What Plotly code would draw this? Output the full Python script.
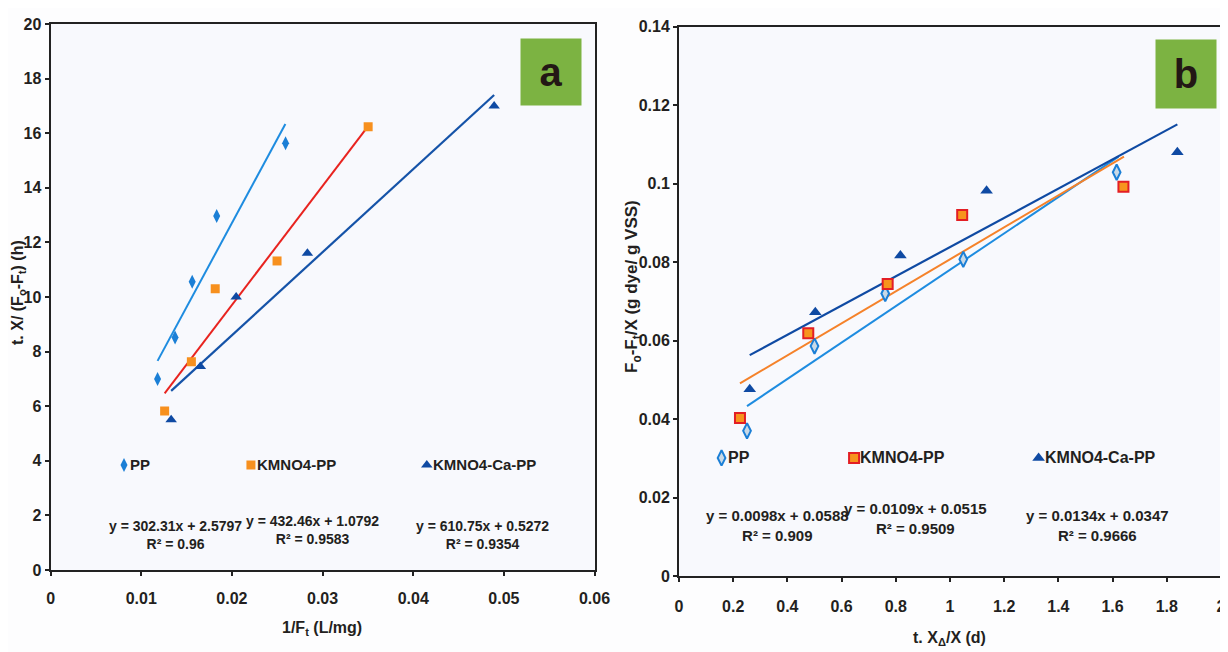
import plotly.graph_objects as go

# ---------------- Panel a data ----------------
a_pp_x = [0.0118, 0.01373, 0.01562, 0.01832, 0.02592]
a_pp_y = [7.0, 8.52, 10.56, 12.97, 15.63]
a_km_x = [0.01258, 0.01553, 0.01816, 0.02498, 0.03503]
a_km_y = [5.82, 7.63, 10.3, 11.32, 16.24]
a_ca_x = [0.0133, 0.01652, 0.02047, 0.02833, 0.04893]
a_ca_y = [5.5, 7.45, 10.0, 11.6, 17.0]
# trend line ends (as drawn)
a_pp_fit_x = [0.0118, 0.0259]
a_pp_fit_y = [7.66, 16.34]
a_km_fit_x = [0.01258, 0.03503]
a_km_fit_y = [6.47, 16.26]
a_ca_fit_x = [0.0133, 0.04893]
a_ca_fit_y = [6.56, 17.4]

# ---------------- Panel b data ----------------
b_pp_x = [0.251, 0.500, 0.761, 1.049, 1.615]
b_pp_y = [0.0370, 0.0586, 0.0720, 0.0807, 0.1029]
b_km_x = [0.225, 0.477, 0.770, 1.045, 1.640]
b_km_y = [0.0403, 0.0619, 0.0744, 0.0920, 0.0992]
b_ca_x = [0.261, 0.503, 0.817, 1.135, 1.839]
b_ca_y = [0.0476, 0.0672, 0.0817, 0.0982, 0.1080]
b_pp_fit_x = [0.251, 1.622]
b_pp_fit_y = [0.0433, 0.1069]
b_km_fit_x = [0.225, 1.642]
b_km_fit_y = [0.0491, 0.1069]
b_ca_fit_x = [0.261, 1.839]
b_ca_fit_y = [0.0563, 0.1151]

series_names = ["PP", "KMNO4-PP", "KMNO4-Ca-PP"]
a_legend_x = [0.0081, 0.0221, 0.0415]
a_legend_y = 3.85
b_legend_x = [0.157, 0.646, 1.327]
b_legend_y = 0.0301

a_eq = ["y = 302.31x + 2.5797<br>R² = 0.96",
        "y = 432.46x + 1.0792<br>R² = 0.9583",
        "y = 610.75x + 0.5272<br>R² = 0.9354"]
a_eq_x = [0.0138, 0.0289, 0.0476]
a_eq_y = [1.3, 1.47, 1.3]
b_eq = ["y = 0.0098x + 0.0588<br>R² = 0.909",
        "y = 0.0109x + 0.0515<br>R² = 0.9509",
        "y = 0.0134x + 0.0347<br>R² = 0.9666"]
b_eq_x = [0.363, 0.874, 1.546]
b_eq_y = [0.0128, 0.0146, 0.0128]

FONT = "Liberation Sans Narrow, Arial Narrow, Liberation Sans, Arial"
TXT = "#231f20"

c_pp_a = "#1b7fd6"
c_km_a = "#f7901e"
c_ca = "#0f4aa3"
c_red = "#e8231f"
c_pp_line = "#1e8ce0"
c_orange_line = "#f5822a"

# page has an 8px body margin; figure size chosen so it fits the window
W, H, OFF = 1220, 644, 8
def fx(p):
    return (p - OFF) / W
def fy(p):
    return 1 - (p - OFF) / H

fig = go.Figure()

def add(x, y, xa, ya, mode, marker=None, line=None):
    fig.add_trace(go.Scatter(x=x, y=y, xaxis=xa, yaxis=ya, mode=mode,
                             marker=marker, line=line, showlegend=False,
                             hoverinfo="skip"))

# ----- panel a -----
add(a_pp_fit_x, a_pp_fit_y, "x", "y", "lines", line=dict(color=c_pp_line, width=2))
add(a_km_fit_x, a_km_fit_y, "x", "y", "lines", line=dict(color=c_red, width=2))
add(a_ca_fit_x, a_ca_fit_y, "x", "y", "lines", line=dict(color="#1553a8", width=2.2))
m_a = [dict(symbol="diamond-tall", size=10, color=c_pp_a),
       dict(symbol="square", size=9, color=c_km_a),
       dict(symbol="triangle-up", size=10, color=c_ca)]
add(a_pp_x, a_pp_y, "x", "y", "markers", marker=m_a[0])
add(a_km_x, a_km_y, "x", "y", "markers", marker=m_a[1])
add(a_ca_x, a_ca_y, "x", "y", "markers", marker=m_a[2])
for i in range(3):
    add([a_legend_x[i]], [a_legend_y], "x", "y", "markers", marker=m_a[i])

# ----- panel b -----
add(b_pp_fit_x, b_pp_fit_y, "x2", "y2", "lines", line=dict(color=c_pp_line, width=2))
add(b_km_fit_x, b_km_fit_y, "x2", "y2", "lines", line=dict(color=c_orange_line, width=2))
add(b_ca_fit_x, b_ca_fit_y, "x2", "y2", "lines", line=dict(color=c_ca, width=2.2))
m_b = [dict(symbol="diamond-tall", size=11, color="#c9d9e6", line=dict(color="#1b7fd6", width=2)),
       dict(symbol="square", size=10, color="#f7941d", line=dict(color="#e31e24", width=2)),
       dict(symbol="triangle-up", size=11, color=c_ca)]
add(b_pp_x, b_pp_y, "x2", "y2", "markers", marker=m_b[0])
add(b_km_x, b_km_y, "x2", "y2", "markers", marker=m_b[1])
add(b_ca_x, b_ca_y, "x2", "y2", "markers", marker=m_b[2])
for i in range(3):
    add([b_legend_x[i]], [b_legend_y], "x2", "y2", "markers", marker=m_b[i])

annotations = []
for i in range(3):
    annotations.append(dict(x=a_legend_x[i], y=a_legend_y, xref="x", yref="y",
                            text=series_names[i], showarrow=False, xanchor="left",
                            xshift=4, font=dict(family=FONT, size=15, color=TXT, weight="bold")))
    annotations.append(dict(x=b_legend_x[i], y=b_legend_y, xref="x2", yref="y2",
                            text=series_names[i], showarrow=False, xanchor="left",
                            xshift=4, font=dict(family=FONT, size=16, color=TXT, weight="bold")))
    annotations.append(dict(x=a_eq_x[i], y=a_eq_y[i], xref="x", yref="y",
                            text=a_eq[i], showarrow=False, align="center",
                            xanchor="center", yanchor="middle",
                            font=dict(family=FONT, size=14, color=TXT, weight="bold")))
    annotations.append(dict(x=b_eq_x[i], y=b_eq_y[i], xref="x2", yref="y2",
                            text=b_eq[i], showarrow=False, align="center",
                            xanchor="center", yanchor="middle",
                            font=dict(family=FONT, size=15, color=TXT, weight="bold")))

# panel labels
annotations.append(dict(x=fx(550.5), y=fy(72), xref="paper", yref="paper",
                        xanchor="center", yanchor="middle",
                        text="a", showarrow=False, width=58, height=64,
                        bgcolor="#7cb342", font=dict(family="Liberation Sans, Arial", size=40,
                                                     color="#231815", weight="bold")))
annotations.append(dict(x=fx(1186), y=fy(74), xref="paper", yref="paper",
                        xanchor="center", yanchor="middle",
                        text="b", showarrow=False, width=58, height=66,
                        bgcolor="#7cb342", font=dict(family="Liberation Sans, Arial", size=40,
                                                     color="#231815", weight="bold")))
# axis titles
annotations.append(dict(x=fx(322), y=fy(628), xref="paper", yref="paper",
                        xanchor="center", yanchor="middle",
                        text="1/F<sub>t</sub> (L/mg)", showarrow=False,
                        font=dict(family=FONT, size=16, color=TXT, weight="bold")))
annotations.append(dict(x=fx(950), y=fy(638), xref="paper", yref="paper",
                        xanchor="center", yanchor="middle",
                        text="t. X<sub>Δ</sub>/X (d)", showarrow=False,
                        font=dict(family=FONT, size=16, color=TXT, weight="bold")))
annotations.append(dict(x=fx(18), y=fy(293), xref="paper", yref="paper",
                        xanchor="center", yanchor="middle",
                        text="t. X/ (F<sub>o</sub>-F<sub>t</sub>) (h)", showarrow=False, textangle=-90,
                        font=dict(family="Liberation Sans, Arial", size=16, color=TXT, weight="bold")))
annotations.append(dict(x=fx(633), y=fy(287), xref="paper", yref="paper",
                        xanchor="center", yanchor="middle",
                        text="F<sub>o</sub>-F<sub>t</sub>/X (g dye/ g VSS)", showarrow=False, textangle=-90,
                        font=dict(family="Liberation Sans, Arial", size=17, color=TXT, weight="bold")))

tickfont = dict(family=FONT, size=16, color=TXT, weight="bold")
ax_common = dict(showgrid=False, zeroline=False, showline=True, linecolor="#222222",
                 linewidth=2, mirror=True, ticks="outside", ticklen=4, tickwidth=1.5,
                 tickcolor="#222222", tickfont=tickfont, automargin=False)

fig.update_layout(
    width=W, height=H,
    margin=dict(l=0, r=0, t=0, b=0),
    paper_bgcolor="#fdfdfe",
    plot_bgcolor="#f8f9fd",
    xaxis=dict(domain=[fx(50.6), fx(594.5)], range=[0, 0.06], dtick=0.01,
               anchor="y", ticklabelstandoff=9, **ax_common),
    yaxis=dict(domain=[fy(570), fy(24)], range=[0, 20], dtick=2,
               anchor="x", **ax_common),
    xaxis2=dict(domain=[fx(679), fx(1221)], range=[0, 2], dtick=0.2,
                anchor="y2", ticklabelstandoff=11, **ax_common),
    yaxis2=dict(domain=[fy(576), fy(26.7)], range=[0, 0.14], dtick=0.02,
                anchor="x2", **ax_common),
    annotations=annotations,
)

fig.write_html("out.html")
